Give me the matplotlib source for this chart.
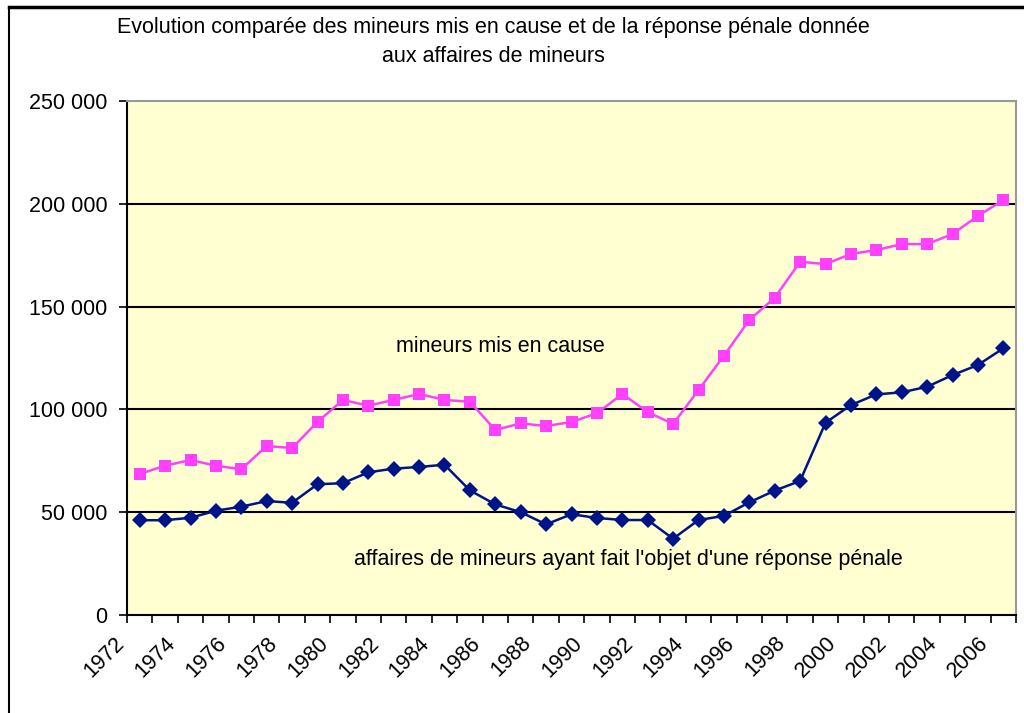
import matplotlib
matplotlib.use("Agg")
import matplotlib.pyplot as plt
import matplotlib.transforms as mtransforms
from matplotlib.lines import Line2D
from matplotlib.ticker import FixedLocator, FuncFormatter

plt.rcParams['font.family'] = ['Liberation Sans', 'DejaVu Sans']

years = list(range(1972, 2007))
mis_en_cause = [68600, 72600, 75400, 72600, 70900, 82200, 81200, 93900, 104600, 101800,
                104600, 107500, 104600, 103700, 90000, 93200, 91900, 93900, 98100, 107500,
                98700, 92900, 109400, 126100, 143500, 154300, 171800, 170700, 175600, 177500,
                180400, 180400, 185300, 194100, 201800]
reponse_penale = [46100, 46100, 47300, 50700, 52700, 55400, 54600, 63600, 64100, 69400,
                  71200, 72000, 73100, 60600, 53800, 50000, 44100, 49000, 47200, 46200,
                  46200, 37100, 46200, 48200, 54800, 60500, 65200, 93500, 102100, 107300,
                  108300, 111000, 116700, 121600, 129700]
tick_years = [str(y) for y in range(1972, 2007, 2)]
y_ticks = [0, 50000, 100000, 150000, 200000, 250000]

title_line1 = "Evolution comparée des mineurs mis en cause et de la réponse pénale donnée"
title_line2 = "aux affaires de mineurs"
label_top = "mineurs mis en cause"
label_bottom = "affaires de mineurs ayant fait l'objet d'une réponse pénale"

FS = 15.5

fig = plt.figure(figsize=(10.24, 7.13), dpi=100)
fig.patch.set_facecolor('white')

# outer chart frame (left and top visible)
fig.add_artist(Line2D([9/1024, 9/1024], [0, 1 - 7/713], color='black', lw=1.5, transform=fig.transFigure))
fig.add_artist(Line2D([9/1024, 1.0], [1 - 7/713, 1 - 7/713], color='black', lw=2.5, transform=fig.transFigure))

ax = fig.add_axes([127/1024, 98/713, (1016-127)/1024, (615-101)/713])
ax.set_facecolor('#FFFFD2')

x = list(range(len(years)))
ax.plot(x, mis_en_cause, color='#FF40FF', lw=1.8, marker='s', markersize=8.5,
        markeredgewidth=0, zorder=3, clip_on=False)
ax.plot(x, reponse_penale, color='#001489', lw=1.8, marker='D', markersize=8.5,
        markeredgewidth=0, zorder=3, clip_on=False)

ax.set_xlim(-0.5, len(years) - 0.5)
ax.set_ylim(0, 250000)

# horizontal gridlines
for yv in y_ticks[1:-1]:
    ax.axhline(yv, color='black', lw=1.5, zorder=1)

ax.set_yticks(y_ticks)
ax.yaxis.set_major_formatter(FuncFormatter(lambda v, p: f"{int(v):,}".replace(",", " ")))
ax.tick_params(axis='y', direction='out', length=6, width=1.2, labelsize=FS, pad=8)

# x: ticks at category boundaries, labels at category centres
ax.xaxis.set_major_locator(FixedLocator([i - 0.5 for i in range(len(years) + 1)]))
ax.xaxis.set_major_formatter(FuncFormatter(lambda v, p: ""))
ax.tick_params(axis='x', which='major', direction='out', length=6, width=1.2)
ax.set_xticks([i for i in range(0, len(years), 2)], minor=True)
ax.set_xticklabels(tick_years, minor=True, rotation=45, ha='right', va='center',
                   rotation_mode='anchor', fontsize=FS)
ax.tick_params(axis='x', which='minor', length=0, pad=18)
offset = mtransforms.ScaledTranslation(-18/100, 0, fig.dpi_scale_trans)
for lab in ax.get_xticklabels(minor=True):
    lab.set_transform(lab.get_transform() + offset)

for side in ['left', 'bottom']:
    ax.spines[side].set_color('black')
    ax.spines[side].set_linewidth(1.5)
for side in ['top', 'right']:
    ax.spines[side].set_color('#999999')
    ax.spines[side].set_linewidth(1.5)

fig.text(500/1024, 1 - 346/713, label_top, fontsize=FS, ha='center', va='center')
fig.text(628/1024, 1 - 559/713, label_bottom, fontsize=FS, ha='center', va='center')
fig.text(493/1024, 1 - 27/713, title_line1, fontsize=FS, ha='center', va='center')
fig.text(493/1024, 1 - 57/713, title_line2, fontsize=FS, ha='center', va='center')

fig.savefig('out.png', dpi=100, facecolor='white')
